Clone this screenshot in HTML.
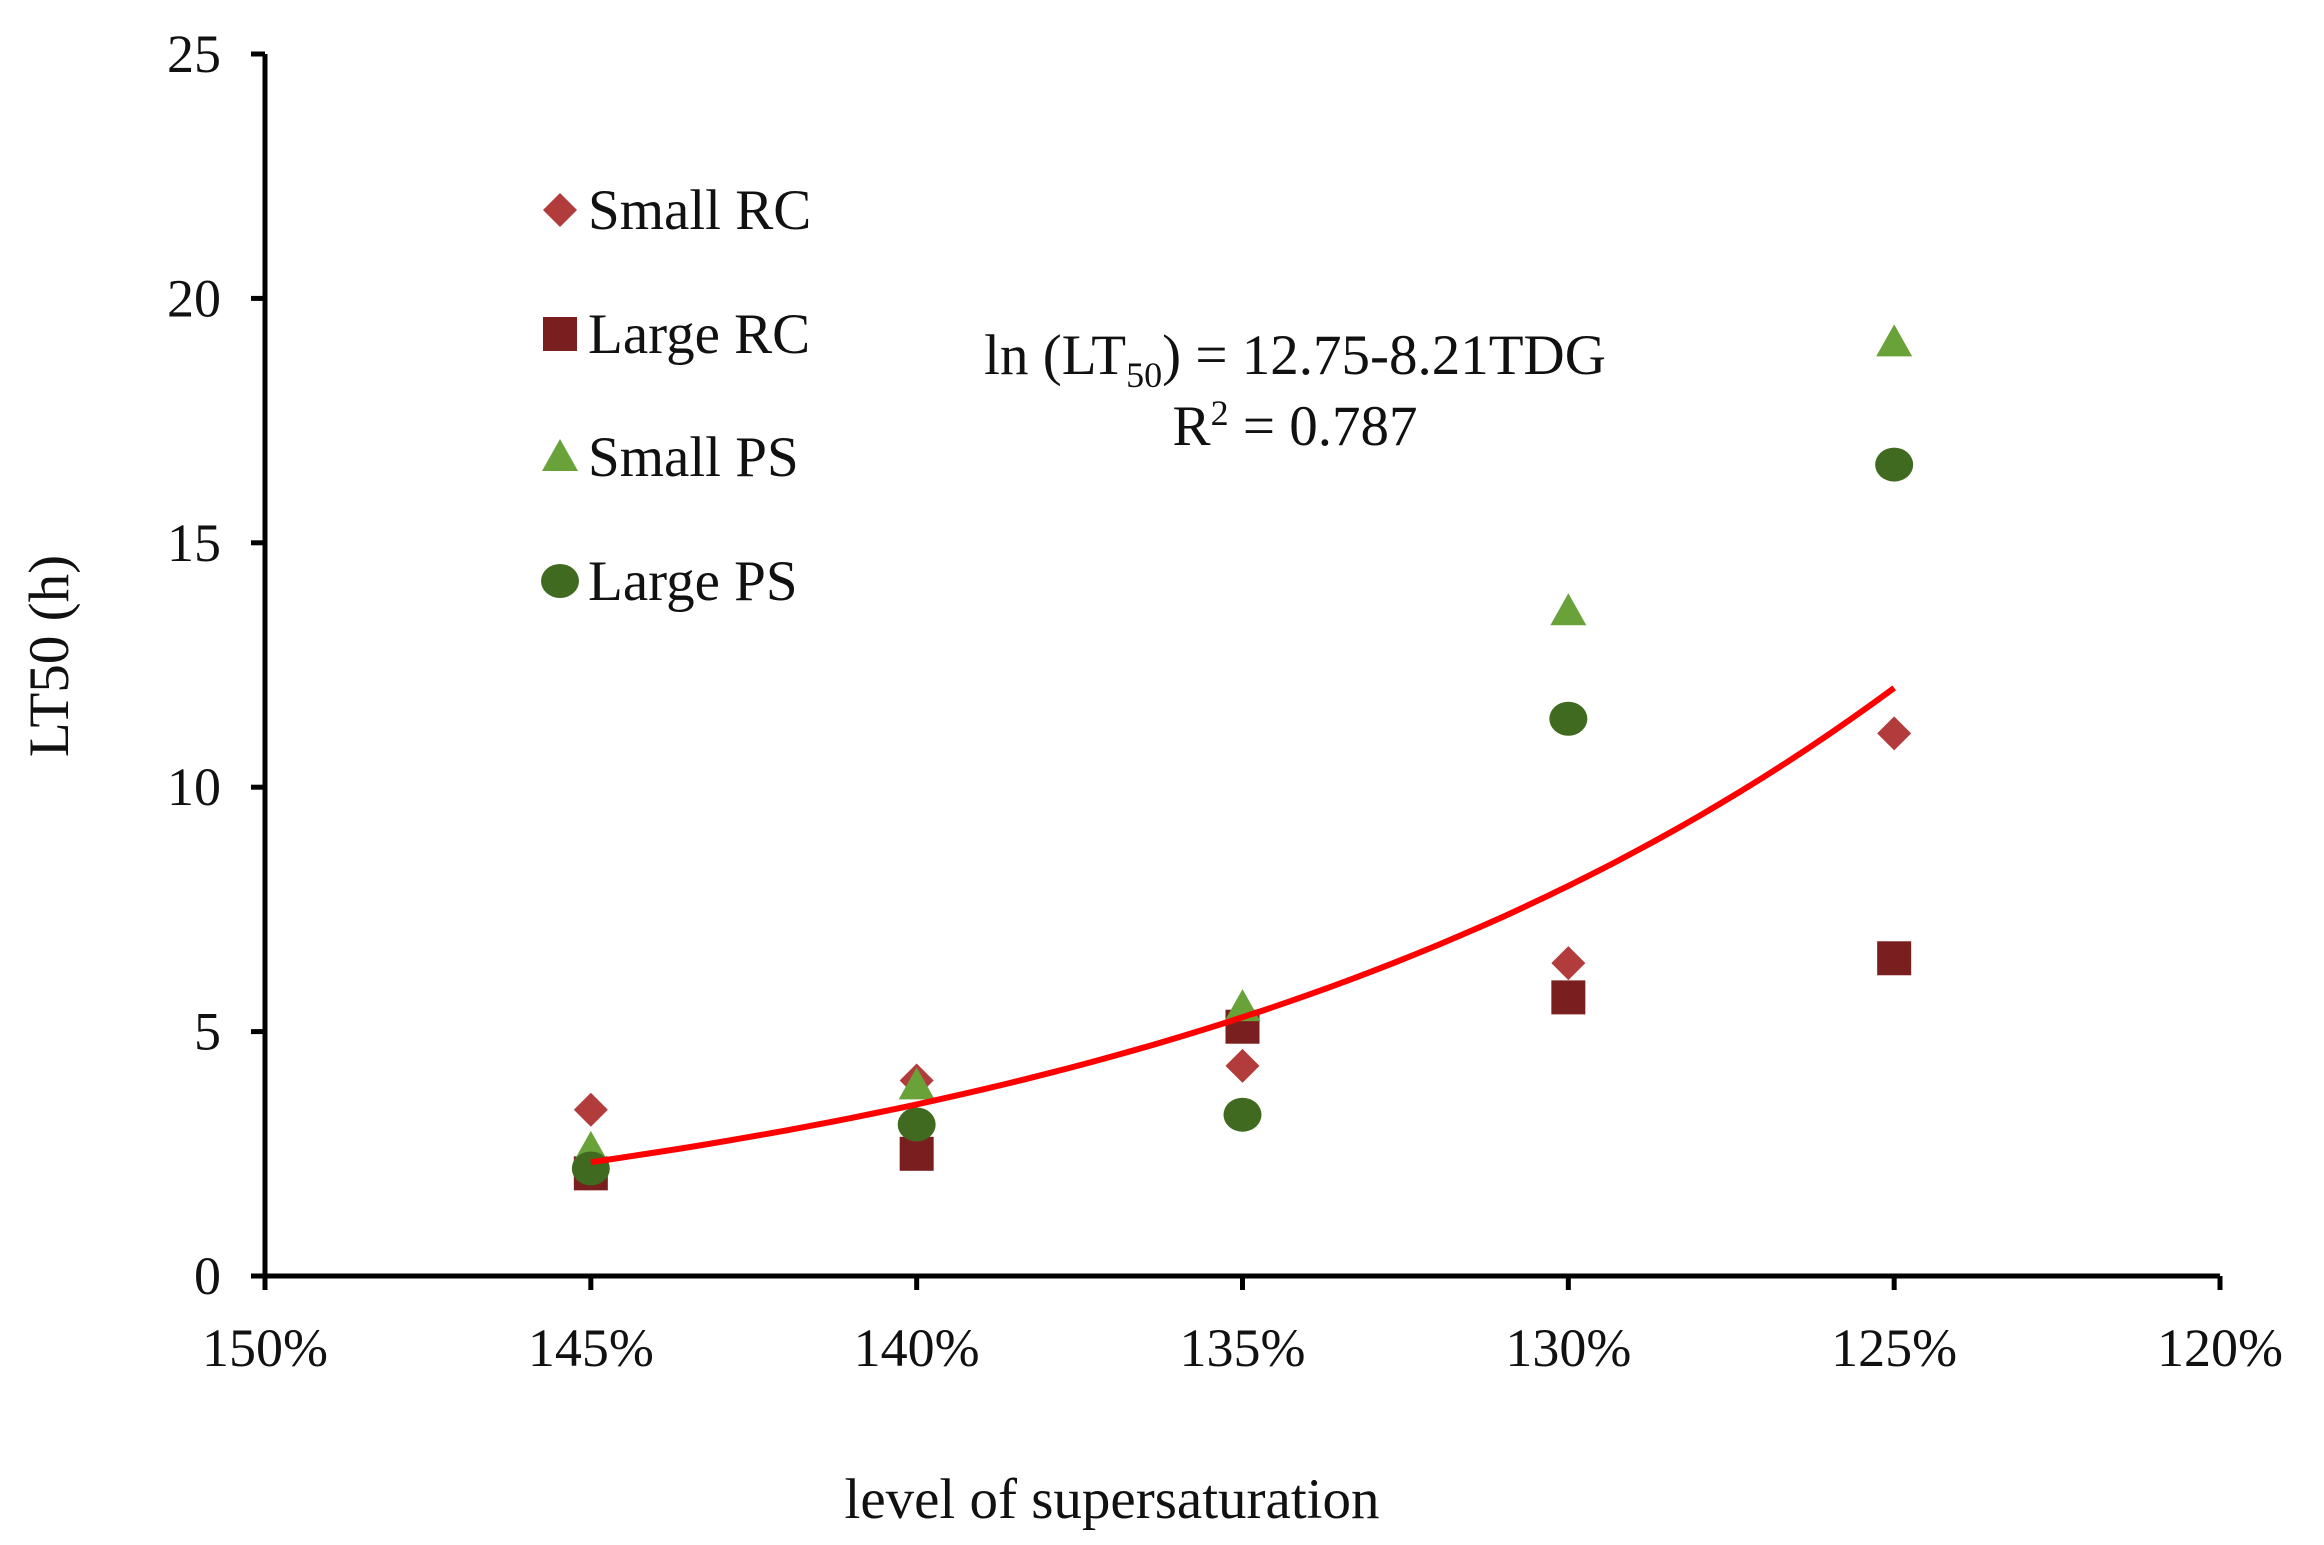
<!DOCTYPE html>
<html><head><meta charset="utf-8"><style>
body{margin:0;background:#fff}
svg text{font-family:"Liberation Serif",serif;fill:#111}
</style></head><body>
<svg id="chart" width="2324" height="1540" viewBox="0 0 2324 1540" xmlns="http://www.w3.org/2000/svg">
<g id="axes"></g>
<g id="marks"></g>
<g id="legend"></g>
<text x="1295" y="374" font-size="57" text-anchor="middle">ln (LT<tspan font-size="36" dy="13">50</tspan><tspan dy="-13">) = 12.75-8.21TDG</tspan></text>
<text x="1295" y="445" font-size="57" text-anchor="middle">R<tspan font-size="36" dy="-20">2</tspan><tspan dy="20"> = 0.787</tspan></text>
<text transform="translate(68,656) rotate(-90)" font-size="57" text-anchor="middle">LT50 (h)</text>
<text x="1112" y="1518" font-size="57" text-anchor="middle">level of supersaturation</text>
</svg>
<script>
const categories = [1.45, 1.40, 1.35, 1.30, 1.25];
const smallRC = [3.4, 4.0, 4.3, 6.4, 11.1];
const largeRC = [2.1, 2.5, 5.1, 5.7, 6.5];
const smallPS = [2.6, 3.9, 5.5, 13.6, 19.1];
const largePS = [2.2, 3.1, 3.3, 11.4, 16.6];
const xTicks = [1.50, 1.45, 1.40, 1.35, 1.30, 1.25, 1.20];
const xTickLabels = ["150%","145%","140%","135%","130%","125%","120%"];
const yTicks = [0, 5, 10, 15, 20, 25];
const fitA = 12.75, fitB = 8.21;

const NS = "http://www.w3.org/2000/svg";
const X0 = 265, X1 = 2220, Y0 = 1276, Y1 = 54;
const xs = v => X0 + (1.50 - v) / (1.50 - 1.20) * (X1 - X0);
const ys = v => Y0 - v / 25 * (Y0 - Y1);
function mk(tag, attrs, parent){const e=document.createElementNS(NS,tag);for(const k in attrs)e.setAttribute(k,attrs[k]);parent.appendChild(e);return e;}
const axes = document.getElementById('axes');
let e;
e = mk('line',{x1:X0,y1:Y1,x2:X0,y2:Y0+2,stroke:'#000','stroke-width':5},axes);


e = mk('line',{x1:X0,y1:Y0,x2:X1,y2:Y0,stroke:'#000','stroke-width':5},axes);


yTicks.forEach(t=>{
  e = mk('line',{x1:X0-14,y1:ys(t),x2:X0,y2:ys(t),stroke:'#000','stroke-width':5},axes);
  
  
  e = mk('text',{x:X0-44,y:ys(t)+18,'font-size':54,'text-anchor':'end'},axes);
  e.textContent = t;
  
  
});
xTicks.forEach((t,i)=>{
  e = mk('line',{x1:xs(t),y1:Y0,x2:xs(t),y2:Y0+14,stroke:'#000','stroke-width':5},axes);
  
  
  e = mk('text',{x:xs(t),y:Y0+90,'font-size':54,'text-anchor':'middle'},axes);
  e.textContent = xTickLabels[i];
  
  
});
const marks = document.getElementById('marks');
function marker(type, cx, cy, parent){
  let el;
  if(type==='diamond') el = mk('polygon',{points:`${cx},${cy-17} ${cx+17},${cy} ${cx},${cy+17} ${cx-17},${cy}`,fill:'#b23c3c'},parent);
  else if(type==='square') el = mk('rect',{x:cx-17,y:cy-17,width:34,height:34,fill:'#7a1f1f'},parent);
  else if(type==='triangle') el = mk('polygon',{points:`${cx},${cy-18} ${cx+18},${cy+14} ${cx-18},${cy+14}`,fill:'#6aa23a'},parent);
  else el = mk('ellipse',{cx:cx,cy:cy,rx:19,ry:17,fill:'#3f6a1f'},parent);
  return el;
}
const series = [['small-rc','diamond',smallRC],['large-rc','square',largeRC],['small-ps','triangle',smallPS],['large-ps','circle',largePS]];
series.forEach(([name,type,vals])=>{
  vals.forEach((v,i)=>{
    const m = marker(type, xs(categories[i]), ys(v), marks);
    
    
  });
});
let d='';
for(let k=0;k<=60;k++){
  const t = 1.45 - k*(0.20/60);
  const y = Math.exp(fitA - fitB*t);
  d += (k?'L':'M') + xs(t).toFixed(1)+','+ys(y).toFixed(1);
}
e = mk('path',{d:d,fill:'none',stroke:'#ff0000','stroke-width':6},marks);


const legend = document.getElementById('legend');
const labels = ['Small RC','Large RC','Small PS','Large PS'];
const ly = [210,334,457,581];
series.forEach(([name,type],i)=>{
  const m = marker(type, 560, ly[i], legend);
  
  
  const t = mk('text',{x:588,y:ly[i]+19,'font-size':57},legend);
  t.textContent = labels[i];
  
  
});
</script>
</body></html>
